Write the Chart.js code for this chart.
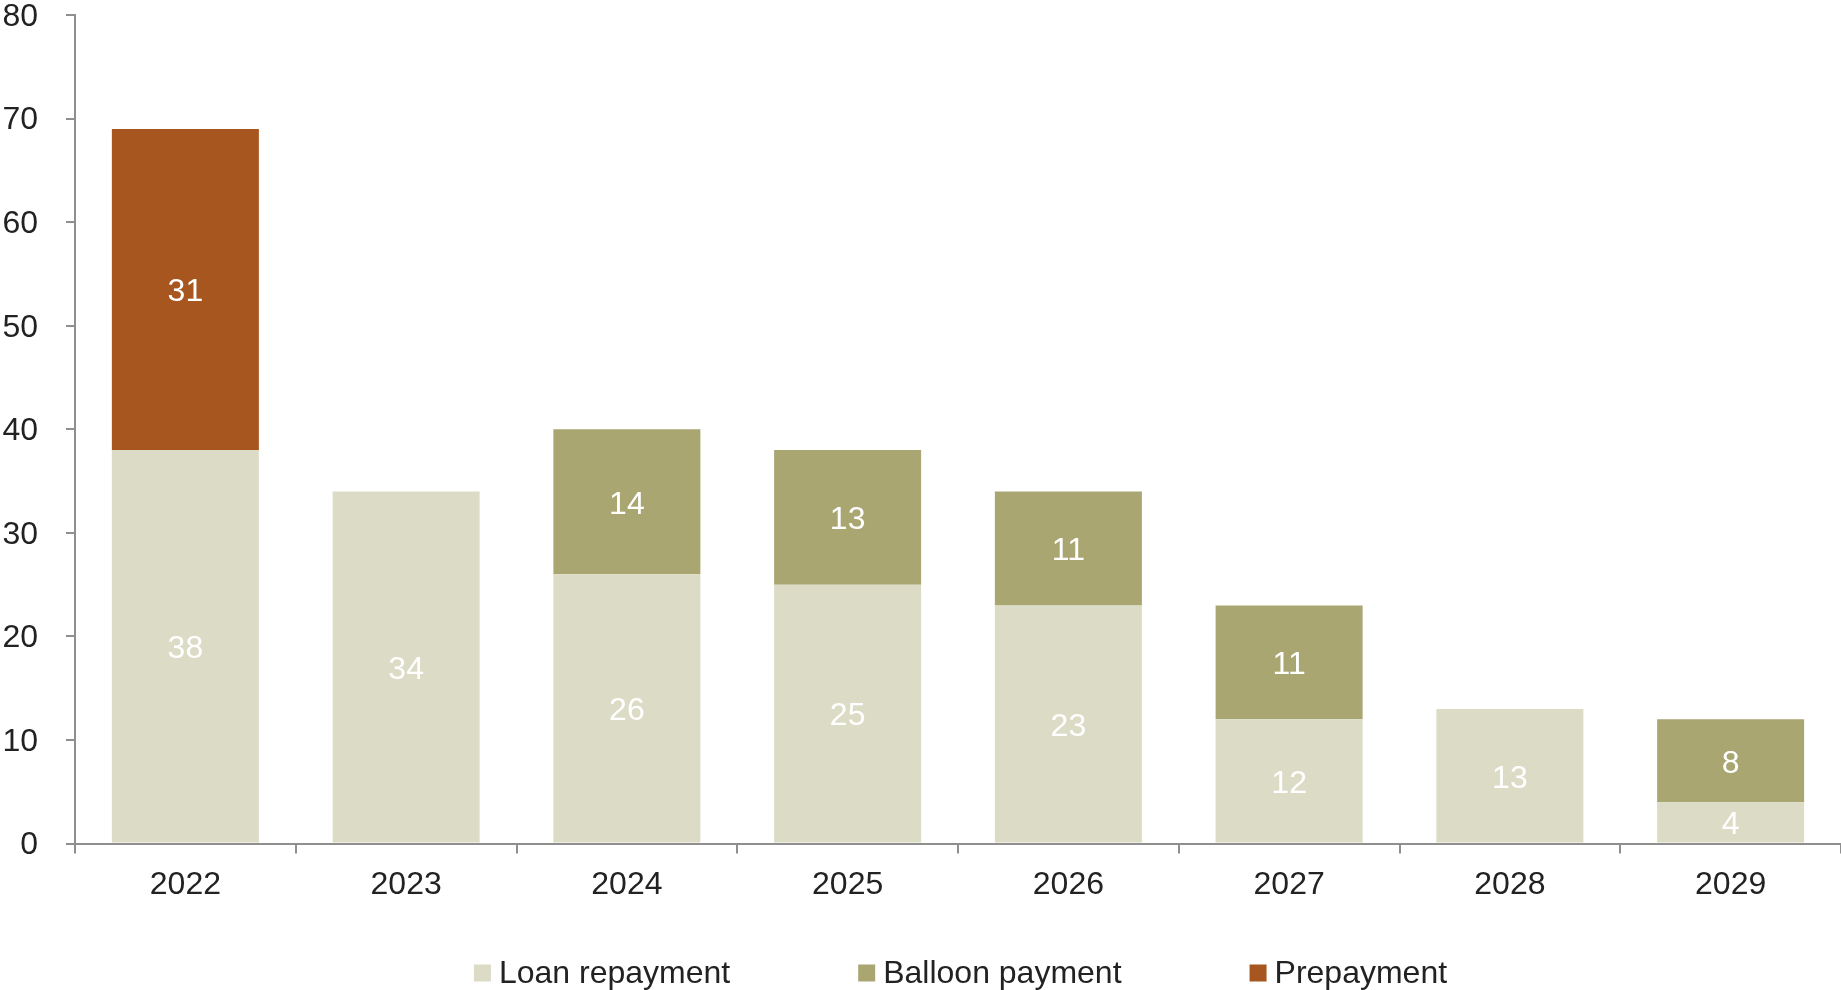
<!DOCTYPE html>
<html>
<head>
<meta charset="utf-8">
<script src="https://cdn.jsdelivr.net/npm/chart.js@4"></script>
<style>
  html, body { margin: 0; padding: 0; background: #fff; }
  #wrap { width: 1841px; height: 990px; position: relative; }
</style>
</head>
<body>
<div id="wrap"><canvas id="c"></canvas></div>
<script>
// Repayment schedule by year
const years = ['2022', '2023', '2024', '2025', '2026', '2027', '2028', '2029'];
const loanRepayment = [38, 34, 26, 25, 23, 12, 13, 4];
const balloonPayment = [null, null, 14, 13, 11, 11, null, 8];
const prepayment = [31, null, null, null, null, null, null, null];
const yTicks = [0, 10, 20, 30, 40, 50, 60, 70, 80];

const seriesNames = ['Loan repayment', 'Balloon payment', 'Prepayment'];
const seriesColors = ['#dcdcc6', '#aaa672', '#a8561f'];

const FONT = '"Liberation Sans", Arial, sans-serif';
const FONT_SIZE = 32;
const TEXT = '#222222';
const AXIS = '#8f8f8f';

// White value labels centred in each stacked segment
const segmentLabels = {
  id: 'segmentLabels',
  afterDatasetsDraw(chart) {
    const ctx = chart.ctx;
    ctx.save();
    ctx.font = FONT_SIZE + 'px ' + FONT;
    ctx.fillStyle = '#ffffff';
    ctx.textAlign = 'center';
    ctx.textBaseline = 'middle';
    chart.data.datasets.forEach((ds, i) => {
      const meta = chart.getDatasetMeta(i);
      meta.data.forEach((bar, j) => {
        const v = ds.data[j];
        if (v === null || v === undefined) return;
        const p = bar.getProps(['x', 'y', 'base'], true);
        ctx.fillText(String(v), p.x, (p.y + p.base) / 2 + 3);
      });
    });
    ctx.restore();
  }
};

// Legend row along the bottom edge
const bottomLegend = {
  id: 'bottomLegend',
  afterDraw(chart) {
    const ctx = chart.ctx;
    const box = 17, gap = 8, spacing = 128;
    ctx.save();
    ctx.font = FONT_SIZE + 'px ' + FONT;
    ctx.textBaseline = 'middle';
    ctx.textAlign = 'left';
    const items = chart.data.datasets.map(ds => ({
      label: ds.label, color: ds.backgroundColor,
      w: box + gap + ctx.measureText(ds.label).width
    }));
    const total = items.reduce((s, it) => s + it.w, 0) + spacing * (items.length - 1);
    let x = (chart.width - total) / 2 + 40;
    const y = 973;
    items.forEach(it => {
      ctx.fillStyle = it.color;
      ctx.fillRect(x, y - box / 2, box, box);
      ctx.fillStyle = TEXT;
      ctx.fillText(it.label, x + box + gap, y + 1);
      x += it.w + spacing;
    });
    ctx.restore();
  }
};

const datasets = [loanRepayment, balloonPayment, prepayment].map((d, i) => ({
  label: seriesNames[i],
  data: d,
  backgroundColor: seriesColors[i],
  borderWidth: 0,
  categoryPercentage: 1,
  barPercentage: 0.666
}));

new Chart(document.getElementById('c'), {
  type: 'bar',
  data: { labels: years, datasets },
  options: {
    responsive: true,
    maintainAspectRatio: false,
    animation: false,
    layout: { padding: { left: 0, right: 0, top: 0, bottom: 74 } },
    plugins: {
      legend: { display: false },
      tooltip: { enabled: false }
    },
    scales: {
      x: {
        stacked: true,
        grid: { display: true, drawOnChartArea: false, drawTicks: true, tickLength: 10, color: AXIS, lineWidth: 2, offset: true },
        border: { display: true, color: AXIS, width: 2 },
        ticks: { color: TEXT, font: { family: FONT, size: FONT_SIZE }, padding: 12, maxRotation: 0 }
      },
      y: {
        stacked: true,
        min: 0,
        max: 80,
        afterBuildTicks(scale) { scale.ticks = yTicks.map(v => ({ value: v })); },
        afterFit(scale) { scale.width = 75; scale.paddingTop = 15; },
        grid: { display: true, drawOnChartArea: false, drawTicks: true, tickLength: 9, color: AXIS, lineWidth: 2 },
        border: { display: true, color: AXIS, width: 2 },
        ticks: { color: TEXT, font: { family: FONT, size: FONT_SIZE }, padding: 28, labelOffset: 2 }
      }
    }
  },
  plugins: [segmentLabels, bottomLegend]
});
</script>
</body>
</html>
